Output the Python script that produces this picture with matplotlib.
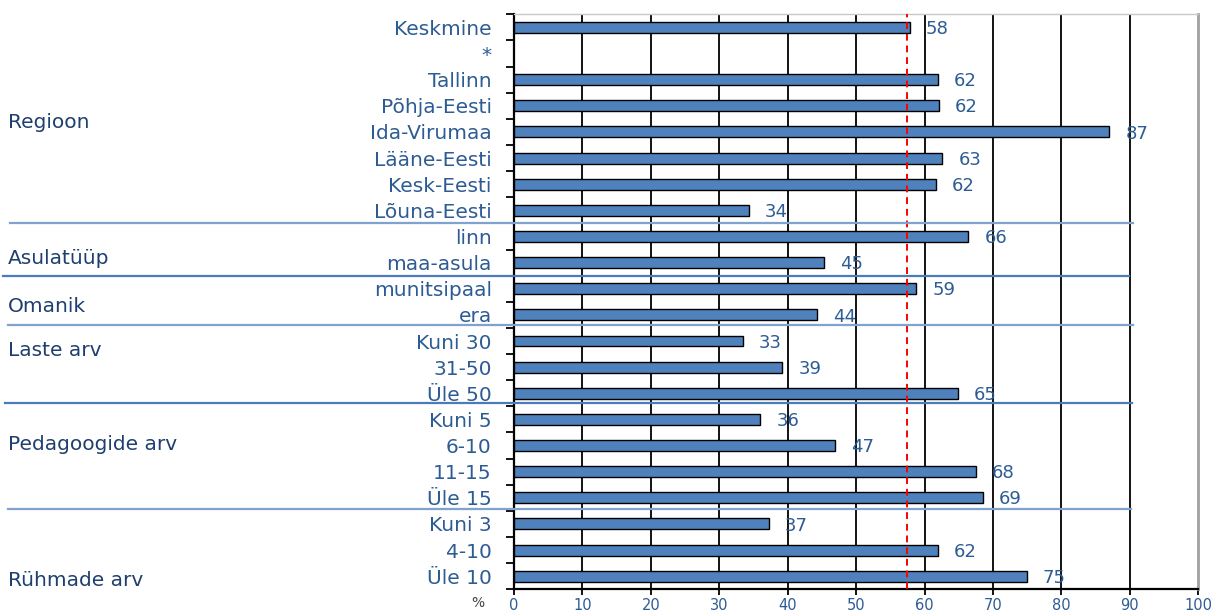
import numpy as np
import matplotlib
matplotlib.use("Agg")
import matplotlib.pyplot as plt
from matplotlib.lines import Line2D

categories = ["Keskmine", "*", "Tallinn", "Põhja-Eesti", "Ida-Virumaa", "Lääne-Eesti",
              "Kesk-Eesti", "Lõuna-Eesti", "linn", "maa-asula", "munitsipaal", "era",
              "Kuni 30", "31-50", "Üle 50", "Kuni 5", "6-10", "11-15", "Üle 15",
              "Kuni 3", "4-10", "Üle 10"]
values = [57.8, np.nan, 61.9, 62.1, 87.0, 62.6, 61.6, 34.3, 66.4, 45.3, 58.8, 44.3,
          33.4, 39.2, 64.9, 36.0, 46.9, 67.5, 68.5, 37.2, 61.9, 74.9]
labels = ["58", "", "62", "62", "87", "63", "62", "34", "66", "45", "59", "44",
          "33", "39", "65", "36", "47", "68", "69", "37", "62", "75"]
groups = ["Regioon", "Asulatüüp", "Omanik", "Laste arv", "Pedagoogide arv", "Rühmade arv"]
average = 57.5
xticks = [0, 10, 20, 30, 40, 50, 60, 70, 80, 90, 100]

W, H = 1219, 615
fig = plt.figure(figsize=(W / 100, H / 100), dpi=100)
ax = fig.add_axes([514 / W, 1 - 589.3 / H, (1198.3 - 514) / W, (589.3 - 14.3) / H])

cat_color = "#2D5B94"
grp_color = "#1F3F6E"
bar_color = "#4F81BD"

y = np.arange(len(categories))
ax.barh(y, values, height=0.42, color=bar_color, edgecolor="black", linewidth=1.0, zorder=3)

ax.set_xlim(0, 100)
ax.set_ylim(len(categories) - 0.5, -0.5)

# grid
for t in xticks[1:-1]:
    ax.axvline(t, color="black", linewidth=1.3, zorder=1)

# average line
ax.axvline(average, color="#FF0000", linewidth=1.4, linestyle=(0, (3.5, 2.5)), zorder=4)

# value labels
for yi, v, lab in zip(y, values, labels):
    if lab:
        ax.annotate(lab, xy=(v, yi), xytext=(11.5, -1.2), textcoords="offset points",
                    ha="left", va="center", fontsize=13, color=cat_color, zorder=5)

# y axis
ax.set_yticks(y)
ax.set_yticklabels(categories, fontsize=14.5, color=cat_color)
ax.set_yticks(np.arange(len(categories) + 1) - 0.5, minor=True)
ax.tick_params(axis="y", which="major", length=0, pad=16)
ax.tick_params(axis="y", which="minor", length=6, width=1.3, color="black", direction="out")

# x axis
ax.set_xticks(xticks)
ax.set_xticklabels([str(t) for t in xticks], fontsize=10.5, color=cat_color)
ax.tick_params(axis="x", which="major", length=4, width=1.3, color="black", direction="out", pad=2)

for side in ["left", "bottom"]:
    ax.spines[side].set_color("black")
    ax.spines[side].set_linewidth(1.6)
ax.spines["top"].set_color("#C8C8C8")
ax.spines["top"].set_linewidth(1.0)
ax.spines["right"].set_color("#A0A0A0")
ax.spines["right"].set_linewidth(2.0)

# group separator lines (figure pixels)
seps = [(223.3, 10, 1133, "#7FA2CF"), (276.0, 3, 1129, "#4A7BBB"), (325.0, 8, 1133, "#7FA2CF"),
        (402.7, 5, 1132, "#4A7BBB"), (509.0, 8, 1131, "#7FA2CF")]
for py, x0, x1, c in seps:
    fig.add_artist(Line2D([x0 / W, x1 / W], [1 - py / H, 1 - py / H], color=c,
                          linewidth=1.6, transform=fig.transFigure, zorder=6))

# group labels
grp_y = [122, 259, 306, 350, 444, 580]
for g, py in zip(groups, grp_y):
    fig.text(8 / W, 1 - py / H, g, ha="left", va="center", fontsize=14.5, color=grp_color)

fig.text(478 / W, 1 - 603 / H, "%", ha="center", va="center", fontsize=10, color="#404040")

fig.savefig("out.png", dpi=100)
